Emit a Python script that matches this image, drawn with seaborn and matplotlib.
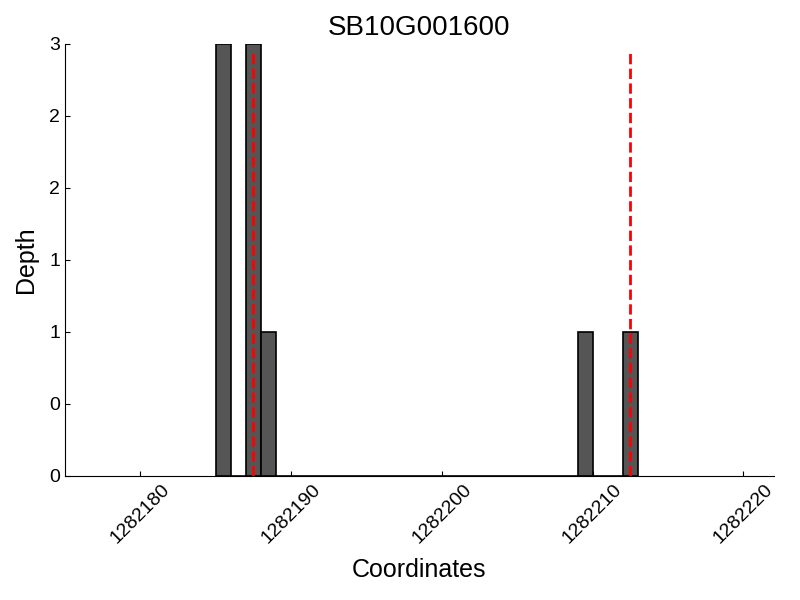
import numpy as np
import pandas as pd
import matplotlib
matplotlib.use("Agg")
import matplotlib.pyplot as plt
import matplotlib.ticker as mticker
import seaborn as sns

# data
gene = "SB10G001600"
coords = [1282185, 1282187, 1282188, 1282209, 1282212]
depth = [3, 3, 1, 1, 1]
snp_pos = [1282187.5, 1282212.5]
x_ticks = [1282180, 1282190, 1282200, 1282210, 1282220]

sns.set_style("ticks", {"axes.edgecolor": "black", "text.color": "black",
                        "axes.labelcolor": "black", "xtick.color": "black",
                        "ytick.color": "black"})
plt.rcParams["font.family"] = ["Liberation Sans", "DejaVu Sans"]
plt.rcParams["xtick.direction"] = "in"
plt.rcParams["ytick.direction"] = "in"

df = pd.DataFrame({"coord": coords, "depth": depth})

fig, ax = plt.subplots(figsize=(8, 6), dpi=100)
fig.subplots_adjust(left=0.081, right=0.967, top=0.927, bottom=0.207)

sns.histplot(
    data=df,
    x="coord",
    weights="depth",
    binwidth=1,
    binrange=(min(coords), max(coords) + 1),
    color="#555555",
    edgecolor="black",
    linewidth=1.2,
    alpha=1,
    ax=ax
)

ax.vlines(snp_pos, 0, 2.95, colors="red", linestyles="--", linewidth=2)

ax.set_xlim(min(coords) - 10, max(coords) + 10)
ax.set_ylim(0, max(depth))
ax.set_xticks(x_ticks)
ax.xaxis.set_major_formatter(mticker.FormatStrFormatter("%d"))
ax.yaxis.set_major_locator(mticker.MultipleLocator(0.5))
ax.yaxis.set_major_formatter(mticker.FormatStrFormatter("%d"))

ax.tick_params(axis="x", labelsize=14, rotation=45)
ax.tick_params(axis="y", labelsize=14)
ax.set_xlabel("Coordinates", fontsize=18, labelpad=8)
ax.set_ylabel("Depth", fontsize=18, labelpad=8)
ax.set_title(gene, fontsize=20)

sns.despine(ax=ax)

fig.savefig("out.png", dpi=100)
